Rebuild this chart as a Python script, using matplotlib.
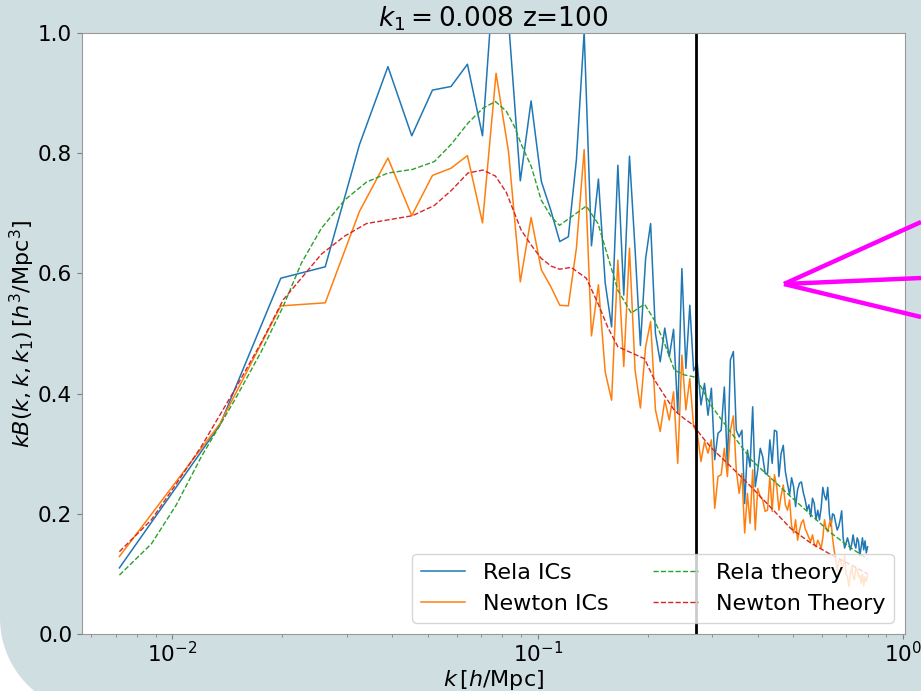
import matplotlib
matplotlib.use("Agg")
import matplotlib.pyplot as plt
import numpy as np
from matplotlib.lines import Line2D
from matplotlib.patches import Polygon

# k grid of the simulation bins [h/Mpc]
k = [0.00716, 0.0135, 0.0198, 0.0262, 0.0325, 0.0389, 0.0452, 0.0515, 0.0579, 0.0642,
     0.0706, 0.0769, 0.0832, 0.0896, 0.0959, 0.1023, 0.1086, 0.1149, 0.1213, 0.1276,
     0.1340, 0.1403, 0.1466, 0.1530, 0.1593, 0.1657, 0.1720, 0.1783, 0.1847, 0.1910,
     0.1974, 0.2037, 0.2100, 0.2164, 0.2227, 0.2291, 0.2354, 0.2417, 0.2481, 0.2544,
     0.2608, 0.2671, 0.2734, 0.2798, 0.2861, 0.2925, 0.2988, 0.3051, 0.3115, 0.3178,
     0.3242, 0.3305, 0.3368, 0.3432, 0.3495, 0.3559, 0.3622, 0.3685, 0.3749, 0.3812,
     0.3876, 0.3939, 0.4002, 0.4066, 0.4129, 0.4193, 0.4256, 0.4319, 0.4383, 0.4446,
     0.4510, 0.4573, 0.4636, 0.4700, 0.4763, 0.4827, 0.4890, 0.4953, 0.5017, 0.5080,
     0.5144, 0.5207, 0.5270, 0.5334, 0.5397, 0.5461, 0.5524, 0.5587, 0.5651, 0.5714,
     0.5778, 0.5841, 0.5904, 0.5968, 0.6031, 0.6095, 0.6158, 0.6221, 0.6285, 0.6348,
     0.6412, 0.6475, 0.6538, 0.6602, 0.6665, 0.6729, 0.6792, 0.6855, 0.6919, 0.6982,
     0.7046, 0.7109, 0.7172, 0.7236, 0.7299, 0.7363, 0.7426, 0.7489, 0.7553, 0.7616,
     0.7680, 0.7743, 0.7806, 0.7870, 0.7933, 0.7997]

rela_ics = [0.110, 0.348, 0.592, 0.611, 0.814, 0.944, 0.829, 0.905, 0.911, 0.948,
            0.829, 1.150, 1.020, 0.754, 0.887, 0.753, 0.705, 0.653, 0.661, 0.789,
            1.002, 0.646, 0.757, 0.584, 0.511, 0.780, 0.564, 0.795, 0.640, 0.480,
            0.625, 0.683, 0.500, 0.453, 0.509, 0.461, 0.507, 0.367, 0.608, 0.442,
            0.547, 0.438, 0.450, 0.381, 0.417, 0.364, 0.409, 0.290, 0.334, 0.339,
            0.411, 0.278, 0.456, 0.470, 0.339, 0.328, 0.339, 0.217, 0.306, 0.278,
            0.378, 0.245, 0.273, 0.309, 0.295, 0.267, 0.267, 0.323, 0.284, 0.339,
            0.337, 0.262, 0.300, 0.314, 0.270, 0.250, 0.231, 0.260, 0.245, 0.212,
            0.240, 0.251, 0.253, 0.235, 0.223, 0.206, 0.215, 0.195, 0.226, 0.217,
            0.190, 0.206, 0.190, 0.210, 0.244, 0.230, 0.223, 0.244, 0.200, 0.179,
            0.200, 0.198, 0.185, 0.173, 0.179, 0.190, 0.205, 0.160, 0.143, 0.151,
            0.160, 0.151, 0.140, 0.150, 0.165, 0.150, 0.143, 0.160, 0.154, 0.130,
            0.145, 0.160, 0.140, 0.155, 0.135, 0.145]

newton_ics = [0.129, 0.350, 0.546, 0.551, 0.703, 0.792, 0.696, 0.763, 0.775, 0.796,
              0.684, 0.933, 0.802, 0.586, 0.693, 0.606, 0.578, 0.547, 0.546, 0.642,
              0.806, 0.496, 0.581, 0.436, 0.389, 0.622, 0.445, 0.642, 0.439, 0.376,
              0.478, 0.520, 0.373, 0.337, 0.389, 0.356, 0.403, 0.284, 0.464, 0.373,
              0.425, 0.345, 0.334, 0.287, 0.320, 0.301, 0.323, 0.209, 0.262, 0.265,
              0.309, 0.262, 0.339, 0.363, 0.273, 0.234, 0.267, 0.168, 0.234, 0.184,
              0.273, 0.173, 0.242, 0.228, 0.223, 0.204, 0.206, 0.262, 0.204, 0.265,
              0.245, 0.206, 0.230, 0.248, 0.215, 0.206, 0.223, 0.180, 0.168, 0.190,
              0.156, 0.173, 0.185, 0.190, 0.175, 0.168, 0.160, 0.154, 0.165, 0.150,
              0.145, 0.156, 0.150, 0.143, 0.160, 0.190, 0.175, 0.170, 0.184, 0.190,
              0.160, 0.140, 0.125, 0.106, 0.120, 0.123, 0.115, 0.112, 0.130, 0.100,
              0.095, 0.079, 0.100, 0.112, 0.095, 0.090, 0.110, 0.106, 0.095, 0.098,
              0.085, 0.100, 0.080, 0.095, 0.088, 0.098]

# theory curves
k_th = [0.00716, 0.00876, 0.01025, 0.0120, 0.0148, 0.01751, 0.0201, 0.02254, 0.02557, 0.0296,
        0.0340, 0.0389, 0.0454, 0.0521, 0.0580, 0.0644, 0.0708, 0.0766, 0.0820, 0.0864,
        0.0901, 0.0960, 0.1022, 0.1089, 0.1147, 0.1235, 0.1358, 0.1462, 0.1556, 0.1657,
        0.1803, 0.1960, 0.2087, 0.2222, 0.2367, 0.2522, 0.2675, 0.2801, 0.2983, 0.3384,
        0.3837, 0.4353, 0.4938, 0.5602, 0.6353, 0.7206, 0.7997]

rela_theory = [0.098, 0.150, 0.215, 0.295, 0.389, 0.470, 0.545, 0.617, 0.675, 0.722,
               0.752, 0.767, 0.773, 0.786, 0.815, 0.850, 0.875, 0.886, 0.870, 0.844,
               0.815, 0.778, 0.722, 0.694, 0.680, 0.694, 0.712, 0.683, 0.628, 0.572,
               0.534, 0.549, 0.522, 0.484, 0.439, 0.431, 0.428, 0.411, 0.380, 0.335,
               0.290, 0.259, 0.228, 0.198, 0.168, 0.143, 0.125]

newton_theory = [0.137, 0.190, 0.250, 0.312, 0.406, 0.485, 0.556, 0.592, 0.632, 0.662,
                 0.683, 0.689, 0.696, 0.713, 0.738, 0.767, 0.772, 0.762, 0.735, 0.700,
                 0.672, 0.647, 0.625, 0.612, 0.607, 0.610, 0.592, 0.550, 0.510, 0.478,
                 0.468, 0.458, 0.423, 0.397, 0.372, 0.358, 0.347, 0.330, 0.310, 0.278,
                 0.245, 0.210, 0.175, 0.151, 0.132, 0.115, 0.100]

k_cut = 0.2715

bg = '#cfdee1'
fig = plt.figure(figsize=(9.21, 6.91), dpi=100, facecolor=bg)

# white corner of the slide, bottom left
W, H = 921, 691
t = np.linspace(0, np.radians(56), 30)
cx, cy, R = 95, 618, 95
xs = list(cx - R*np.cos(t)) + [0]
ys = list(cy + R*np.sin(t)) + [H]
corner = Polygon(np.column_stack([np.array(xs)/W, 1 - np.array(ys)/H]),
                 closed=True, transform=fig.transFigure, facecolor='white',
                 edgecolor='none', zorder=0)
fig.patches.append(corner)

ax = fig.add_axes([82/W, 1 - 634/H, (905-82)/W, (634-33)/H])

ax.plot(k, rela_ics, color='C0', lw=1.1, label='Rela ICs')
ax.plot(k, newton_ics, color='C1', lw=1.1, label='Newton ICs')
ax.plot(k_th, rela_theory, '--', color='C2', lw=1.0, label='Rela theory')
ax.plot(k_th, newton_theory, '--', color='C3', lw=1.0, label='Newton Theory')
ax.axvline(k_cut, color='k', lw=2)

ax.set_xscale('log')
ax.set_ylim(0, 1)
ax.set_title(r'$k_1 = 0.008$ z=100', fontsize=19, pad=4)
ax.set_xlabel(r'$k\,[h/\mathrm{Mpc}]$', fontsize=16, labelpad=1)
ax.set_ylabel(r'$kB(k,k,k_1)\,[h^3/\mathrm{Mpc}^3]$', fontsize=16, labelpad=1)
ax.tick_params(labelsize=15.5)
ax.tick_params(axis='x', pad=1.5)
for s in ax.spines.values():
    s.set_color('0.6')
ax.tick_params(which='both', color='0.5')
ax.legend(loc='lower right', ncol=2, fontsize=16)

# magenta pointer lines
for ye in [222, 278, 317]:
    fig.add_artist(Line2D([784/W, 1.0], [1 - 284/H, 1 - ye/H],
                          transform=fig.transFigure, color='#ff00ff', lw=3.2,
                          solid_capstyle='butt'))

fig.savefig('out.png', dpi=100, facecolor=bg)
